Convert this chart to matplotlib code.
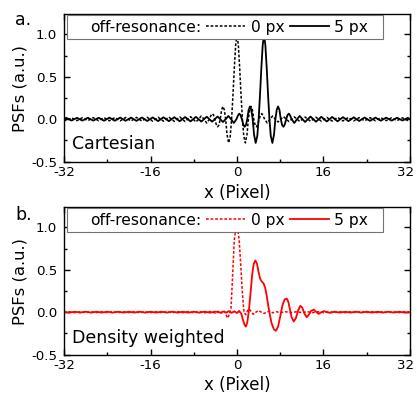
import numpy as np
import matplotlib
matplotlib.use('Agg')
import matplotlib.pyplot as plt
from matplotlib.lines import Line2D
from matplotlib.ticker import MultipleLocator, FormatStrFormatter
from matplotlib.transforms import ScaledTranslation

plt.rcParams['font.family'] = ['DejaVu Sans']
plt.rcParams['axes.unicode_minus'] = False

# ---------------- data ----------------
x_ticks = [-32, -16, 0, 16, 32]
y_ticks = [-0.5, 0.0, 0.5, 1.0]
legend_labels = ['off-resonance:', '0 px', '5 px']
panel_names = ['Cartesian', 'Density weighted']
panel_tags = ['a.', 'b.']

# Cartesian, 0 px off-resonance (dotted)
cart_0px_x = [-32.0, -31.6, -30.6, -29.6, -28.6, -27.6, -26.6, -25.6, -24.6, -23.6, -22.6,
              -21.6, -20.6, -19.6, -18.6, -17.6, -16.6, -15.6, -14.6, -13.6, -12.6, -11.6,
              -10.6, -9.6, -8.6, -8.1, -7.6, -7.1, -6.6, -6.1, -5.6, -5.1, -4.85, -4.6, -4.35,
              -4.1, -3.85, -3.6, -3.35, -3.1, -2.85, -2.6, -2.35, -2.1, -1.85, -1.55, -1.25,
              -1.0, -0.75, -0.5, -0.25, 0.0, 0.25, 0.5, 0.75, 1.0, 1.25, 1.55, 1.85, 2.1, 2.35,
              2.6, 2.85, 3.1, 3.35, 3.6, 3.85, 4.1, 4.35, 4.6, 4.85, 5.1, 5.6, 6.1, 6.6, 7.1,
              7.6, 8.1, 8.6, 9.6, 10.6, 11.6, 12.6, 13.6, 14.6, 15.6, 16.6, 17.6, 18.6, 19.6,
              20.6, 21.6, 22.6, 23.6, 24.6, 25.6, 26.6, 27.6, 28.6, 29.6, 30.6, 31.6, 32.0]
cart_0px_y = [0.0, -0.016, 0.016, -0.017, 0.017, -0.017, 0.018, -0.018, 0.018, -0.019, 0.019,
              -0.02, 0.02, -0.021, 0.021, -0.022, 0.022, -0.023, 0.023, -0.024, 0.025, -0.026,
              0.027, -0.028, 0.03, 0.0, -0.033, 0.0, 0.038, 0.0, -0.045, 0.0, 0.04, 0.065, 0.05,
              0.0, -0.06, -0.09, -0.07, 0.0, 0.11, 0.15, 0.11, 0.0, -0.18, -0.28, -0.2,
              0.0, 0.28, 0.6, 0.87, 1.0, 0.87, 0.6, 0.28, 0.0, -0.2, -0.28, -0.18, 0.0, 0.11,
              0.15, 0.11, 0.0, -0.07, -0.09, -0.06, 0.0, 0.05, 0.065, 0.04, 0.0, -0.045, 0.0, 0.038, 0.0,
              -0.033, 0.0, 0.03, -0.028, 0.027, -0.026, 0.025, -0.024, 0.023, -0.023, 0.022, -0.022, 0.021, -0.021,
              0.02, -0.02, 0.019, -0.019, 0.018, -0.018, 0.018, -0.017, 0.017, -0.017, 0.016, -0.016, 0.0]

# Cartesian, 5 px off-resonance (solid)
cart_5px_x = [-32.0, -31.6, -30.6, -29.6, -28.6, -27.6, -26.6, -25.6, -24.6, -23.6, -22.6,
              -21.6, -20.6, -19.6, -18.6, -17.6, -16.6, -15.6, -14.6, -13.6, -12.6, -11.6,
              -10.6, -9.6, -8.6, -7.6, -6.6, -5.6, -4.6, -3.6, -3.1, -2.6, -2.1, -1.6, -1.1,
              -0.6, -0.1, 0.15, 0.4, 0.65, 0.9, 1.15, 1.4, 1.65, 1.9, 2.15, 2.4, 2.65, 2.9, 3.15,
              3.45, 3.75, 4.0, 4.25, 4.5, 4.75, 5.0, 5.25, 5.5, 5.75, 6.0, 6.25, 6.55, 6.85, 7.1,
              7.35, 7.6, 7.85, 8.1, 8.35, 8.6, 8.85, 9.1, 9.35, 9.6, 9.85, 10.1, 10.6, 11.1, 11.6,
              12.1, 12.6, 13.1, 13.6, 14.6, 15.6, 16.6, 17.6, 18.6, 19.6, 20.6, 21.6, 22.6, 23.6,
              24.6, 25.6, 26.6, 27.6, 28.6, 29.6, 30.6, 31.6, 32.0]
cart_5px_y = [0.0, 0.016, -0.016, 0.016, -0.017, 0.017, -0.017, 0.017, -0.018, 0.018, -0.018,
              0.019, -0.019, 0.019, -0.02, 0.02, -0.021, 0.021, -0.022, 0.022, -0.023, 0.023,
              -0.024, 0.025, -0.026, 0.027, -0.028, 0.029, -0.03, 0.031, 0.0, -0.033, 0.0, 0.038, 0.0,
              -0.045, 0.0, 0.04, 0.065, 0.05, 0.0, -0.06, -0.09, -0.07, 0.0, 0.11, 0.15, 0.11, 0.0, -0.18,
              -0.28, -0.2, 0.0, 0.28, 0.6, 0.87, 1.0, 0.87, 0.6, 0.28, 0.0, -0.2, -0.28, -0.18, 0.0,
              0.11, 0.15, 0.11, 0.0, -0.07, -0.09, -0.06, 0.0, 0.05, 0.065, 0.04, 0.0, -0.045, 0.0, 0.038,
              0.0, -0.033, 0.0, 0.031, -0.03, 0.028, -0.027, 0.026, -0.025, 0.024, -0.023, 0.022, -0.021, 0.02,
              -0.02, 0.019, -0.018, 0.018, -0.017, 0.017, -0.016, 0.016, 0.0]

# Density weighted, 0 px off-resonance (dotted)
dw_0px_x = [-32, -31, -30, -29, -28, -27, -26, -25, -24, -23, -22, -21, -20, -19, -18, -17,
            -16, -15, -14, -13, -12, -11, -10, -9, -8, -7, -6, -5, -4, -3.5, -3.0, -2.5, -2.1,
            -1.8, -1.4, -1.1, -0.8, -0.5, -0.2, 0.1, 0.4, 0.7, 1.0, 1.3, 1.6, 1.9, 2.2, 2.6, 3.0,
            3.5, 4.0, 4.5, 5.0, 5.5, 6.0, 6.6, 7.2, 8, 9, 10, 11, 12, 13, 14, 15, 16, 17, 18, 19,
            20, 21, 22, 23, 24, 25, 26, 27, 28, 29, 30, 31, 32]
dw_0px_y = [0.0, 0.005, -0.005, 0.005, -0.005, 0.005, -0.005, 0.005, -0.005, 0.005, -0.005, 0.005,
            -0.005, 0.005, -0.005, 0.005, -0.005, 0.005, -0.005, 0.006, -0.006, 0.006, -0.006, 0.007,
            -0.007, 0.008, -0.008, 0.008, -0.01, 0.01, -0.015, 0.02, -0.01,
            -0.07, -0.03, 0.05, 0.45, 0.85, 1.0, 1.0, 0.85, 0.55, 0.22, 0.0, -0.03, 0.01, 0.04, 0.01, -0.025,
            0.0, 0.02, 0.0, -0.015, 0.0, 0.012, -0.008, 0.006, -0.005, 0.005, -0.005, 0.005, -0.005, 0.005,
            -0.005, 0.005, -0.005, 0.005, -0.005, 0.005, -0.005, 0.005, -0.005, 0.005, -0.005, 0.005, -0.005,
            0.005, -0.005, 0.005, -0.005, 0.005, 0.0]

# Density weighted, 5 px off-resonance (solid)
dw_5px_x = [-32, -31, -30, -29, -28, -27, -26, -25, -24, -23, -22, -21, -20, -19, -18, -17,
            -16, -15, -14, -13, -12, -11, -10, -9, -8, -7, -6, -5, -4, -3, -2.5, -2.0, -1.5,
            -1.0, -0.5, 0.0, 0.4, 0.8, 1.1, 1.4, 1.65, 1.9, 2.2, 2.5, 2.8, 3.1, 3.4, 3.7, 4.0, 4.3,
            4.6, 4.9, 5.2, 5.5, 5.8, 6.1, 6.4, 6.8, 7.2, 7.6, 8.0, 8.4, 8.8, 9.2, 9.5, 9.8, 10.1,
            10.5, 10.9, 11.3, 11.7, 12.1, 12.5, 12.9, 13.3, 13.7, 14.2, 14.7, 15.1, 15.6, 16.1,
            16.6, 17.2, 18, 19, 20, 21, 22, 23, 24, 25, 26, 27, 28, 29, 30, 31, 32]
dw_5px_y = [0.0, -0.005, 0.005, -0.005, 0.005, -0.005, 0.005, -0.005, 0.005, -0.005, 0.005, -0.005,
            0.005, -0.005, 0.005, -0.005, 0.005, -0.005, 0.005, -0.005, 0.005, -0.005, 0.005, -0.005,
            0.005, -0.006, 0.006, -0.006, 0.006, -0.006, 0.008, -0.006, 0.012,
            -0.008, 0.01, -0.01, 0.015, -0.02, -0.09, -0.15, -0.17, -0.12, 0.02, 0.22, 0.44, 0.57, 0.61,
            0.57, 0.47, 0.39, 0.36, 0.34, 0.29, 0.19, 0.07, -0.04, -0.13, -0.2, -0.22, -0.17, -0.05, 0.08,
            0.15, 0.16, 0.12, 0.03, -0.06, -0.11, -0.07, 0.02, 0.075, 0.05, -0.02, -0.06, -0.03, 0.015,
            0.03, 0.0, -0.02, 0.0, 0.012, 0.0, -0.008, 0.005, -0.005, 0.005, -0.005, 0.005, -0.005, 0.005,
            -0.005, 0.005, -0.005, 0.005, -0.005, 0.005, -0.005, 0.0]

# ---------------- figure ----------------
fig = plt.figure(figsize=(4.17, 3.94), dpi=100)
ax_a = fig.add_axes([0.1535, 0.5888, 0.8297, 0.3756])
ax_b = fig.add_axes([0.1535, 0.099, 0.8297, 0.3756])

dot_style = (0, (1.8, 1.2))

panels = [
    (ax_a, cart_0px_x, cart_0px_y, cart_5px_x, cart_5px_y, 'black', -0.15, 0.087),
    (ax_b, dw_0px_x, dw_0px_y, dw_5px_x, dw_5px_y, '#ff0000', -0.145, 0.083),
]

for i, (ax, x0, y0, x5, y5, col, xlab_y, name_y) in enumerate(panels):
    l0, = ax.plot(x0, y0, color=col, lw=1.1, linestyle=dot_style)
    l5, = ax.plot(x5, y5, color=col, lw=1.3, linestyle='-')

    ax.set_xlim(-32, 32)
    ax.set_ylim(-0.505, 1.24)
    ax.set_xticks(x_ticks)
    ax.set_yticks(y_ticks)
    ax.xaxis.set_minor_locator(MultipleLocator(8))
    ax.yaxis.set_minor_locator(MultipleLocator(0.25))
    ax.xaxis.set_major_formatter(FormatStrFormatter('%d'))
    ax.yaxis.set_major_formatter(FormatStrFormatter('%.1f'))
    ax.tick_params(which='both', direction='in', top=True, right=True, width=1.0,
                   labelsize=9.6, colors='black')
    ax.tick_params(which='major', length=4)
    ax.tick_params(which='minor', length=2.5)
    ax.tick_params(axis='y', pad=5)
    ax.tick_params(axis='x', pad=3)
    for s in ax.spines.values():
        s.set_linewidth(1.0)

    # nudge the right-most x tick label inward so it stays inside the canvas
    last_lbl = ax.xaxis.get_major_ticks()[-1].label1
    last_lbl.set_transform(last_lbl.get_transform()
                           + ScaledTranslation(-4 / 100, 0, fig.dpi_scale_trans))

    ax.set_xlabel('x (Pixel)', fontsize=12)
    ax.set_ylabel('PSFs (a.u.)', fontsize=11.8)
    ax.xaxis.set_label_coords(0.5, xlab_y)
    ax.xaxis.label.set_va('top')
    ax.yaxis.set_label_coords(-0.105, 0.5)

    ax.text(0.023, name_y, panel_names[i], transform=ax.transAxes,
            fontsize=12.5, va='baseline', ha='left')

    blank = Line2D([], [], color='none')
    blank2 = Line2D([], [], color='none')
    leg = ax.legend([blank, l0, l5, blank2], legend_labels + [''], ncol=4, loc='upper left',
                    bbox_to_anchor=(0.009, 0.993), borderaxespad=0, frameon=True,
                    fancybox=False, edgecolor='0.45', framealpha=1, fontsize=11.2,
                    handlelength=2.5, handletextpad=0.35, columnspacing=0.35,
                    borderpad=0.3)
    leg.get_frame().set_linewidth(0.8)
    leg.set_zorder(5)
    cols = leg._legend_handle_box.get_children()
    cols[0].get_children()[0].get_children()[0].width = 9.0
    cols[3].get_children()[0].get_children()[0].width = 0.0

fig.text(15 / 417, 1 - 25 / 394, panel_tags[0], fontsize=12.5, va='baseline', ha='left')
fig.text(15 / 417, 1 - 220 / 394, panel_tags[1], fontsize=12.5, va='baseline', ha='left')

fig.savefig('out.png', dpi=100)
